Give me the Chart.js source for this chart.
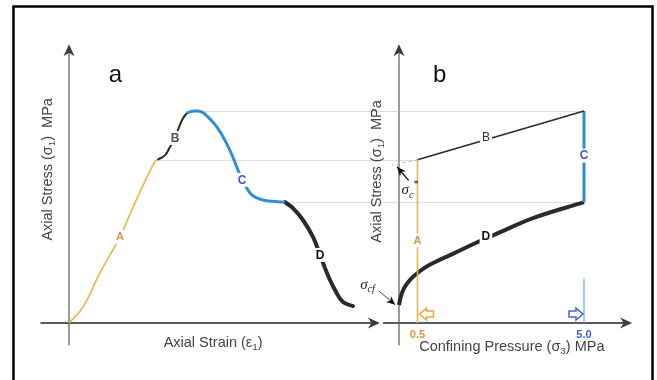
<!DOCTYPE html>
<html>
<head>
<meta charset="utf-8">
<script src="https://cdn.jsdelivr.net/npm/chart.js@4/dist/chart.umd.min.js"></script>
<style>
  html, body { margin: 0; padding: 0; background: #fff; }
  canvas { display: block; }
</style>
</head>
<body>
<canvas id="myChart" width="657" height="380"></canvas>
<script>
// Panel a: axial strain (arbitrary units) vs axial stress (relative, peak = 100)
const strainA = [0, 0.049, 0.108, 0.178, 0.224, 0.273, 0.301, 0.309];
const stressA = [0, 7.5, 23.6, 40.6, 54.7, 68.9, 76.4, 77];
const strainB = [0.309, 0.336, 0.353, 0.371, 0.385, 0.399, 0.413];
const stressB = [77, 79.2, 83.0, 87.3, 92.5, 96.7, 99.1];
const strainC = [0.413, 0.427, 0.441, 0.465, 0.486, 0.517, 0.545, 0.573, 0.601, 0.633, 0.657, 0.685, 0.720, 0.755];
const stressC = [99.1, 99.8, 100, 99.5, 97.2, 92.5, 86.3, 78.3, 68.9, 61.3, 59.0, 57.8, 57.3, 57];
const strainD = [0.755, 0.783, 0.818, 0.853, 0.878, 0.902, 0.930, 0.958, 0.993];
const stressD = [57, 54.2, 48.6, 40.6, 32.1, 23.6, 15.6, 9.9, 8.0];

// Panel b: confining pressure (MPa) vs axial stress
const pressureA = [0.5, 0.5];
const stressAb = [0, 77];
const pressureB = [0.5, 5.0];
const stressBb = [77, 100];
const pressureC = [5.0, 5.0];
const stressCb = [100, 57];
const pressureD = [0, 0.05, 0.13, 0.26, 0.42, 0.68, 0.98, 1.44, 2.10, 2.69, 3.64, 5.0];
const stressDb = [8.5, 12.5, 16.2, 19.6, 22.4, 25.9, 28.8, 32.5, 38.0, 42.5, 49.6, 57];
const pressureExtrap = [0.5, -0.19];
const stressExtrap = [77, 74.5];
const pressureTick5 = [5.0, 5.0];
const stressTick5 = [0, 21];

const pressureTicks = [0.5, 5.0];
const pressureTickLabels = ["0.5", "5.0"];

// stress levels carried across from panel a to panel b
const guides = [
  { strain: 0.441, stress: 100, pressure: 5.0 },
  { strain: 0.309, stress: 77, pressure: 0.5 },
  { strain: 0.755, stress: 57, pressure: 5.0 },
];

function pts(xs, ys) {
  return xs.map((x, i) => ({ x: x, y: ys[i] }));
}

const YELLOW = "#e8b446";
const ORANGE = "#d9963a";
const BLUE = "#2e8fd8";
const BLUE_TXT = "#4257d2";
const BLACK = "#2a2a2a";
const FONT = "'Liberation Sans', Arial, sans-serif";

function rich(ctx, parts, cx, cy, size, color, rot, family) {
  ctx.save();
  ctx.translate(cx, cy);
  if (rot) ctx.rotate(rot);
  ctx.fillStyle = color;
  ctx.textBaseline = "middle";
  ctx.textAlign = "left";
  let w = 0;
  parts.forEach((p) => {
    const s = p.sub || p.sup ? size * 0.68 : size;
    ctx.font = (p.style || "") + " " + s + "px " + (family || FONT);
    p.w = ctx.measureText(p.t).width;
    w += p.w;
  });
  let x = -w / 2;
  parts.forEach((p) => {
    const s = p.sub || p.sup ? size * 0.68 : size;
    ctx.font = (p.style || "") + " " + s + "px " + (family || FONT);
    const dy = p.sub ? size * 0.3 : p.sup ? -size * 0.4 : 0;
    ctx.fillText(p.t, x, dy);
    x += p.w;
  });
  ctx.restore();
}

function arrowHead(ctx, x1, y1, x2, y2, len, half, color) {
  const a = Math.atan2(y2 - y1, x2 - x1);
  ctx.save();
  ctx.fillStyle = color;
  ctx.beginPath();
  ctx.moveTo(x2, y2);
  ctx.lineTo(x2 - len * Math.cos(a) + half * Math.sin(a), y2 - len * Math.sin(a) - half * Math.cos(a));
  ctx.lineTo(x2 - len * 0.7 * Math.cos(a), y2 - len * 0.7 * Math.sin(a));
  ctx.lineTo(x2 - len * Math.cos(a) - half * Math.sin(a), y2 - len * Math.sin(a) + half * Math.cos(a));
  ctx.closePath();
  ctx.fill();
  ctx.restore();
}

function tagLabel(ctx, text, x, y, color, font) {
  ctx.save();
  ctx.font = font;
  const w = ctx.measureText(text).width;
  ctx.fillStyle = "#fff";
  ctx.fillRect(x - w / 2 - 2, y - 7, w + 4, 14);
  ctx.fillStyle = color;
  ctx.textAlign = "center";
  ctx.textBaseline = "middle";
  ctx.fillText(text, x, y + 0.5);
  ctx.restore();
}

function blockArrow(ctx, tipX, y, dir, color) {
  // dir = -1 points left, +1 points right
  const L = 14, head = 7, hh = 6, sh = 3;
  ctx.save();
  ctx.strokeStyle = color;
  ctx.fillStyle = "#fff";
  ctx.lineWidth = 1.5;
  ctx.beginPath();
  ctx.moveTo(tipX, y);
  ctx.lineTo(tipX - dir * head, y - hh);
  ctx.lineTo(tipX - dir * head, y - sh);
  ctx.lineTo(tipX - dir * L, y - sh);
  ctx.lineTo(tipX - dir * L, y + sh);
  ctx.lineTo(tipX - dir * head, y + sh);
  ctx.lineTo(tipX - dir * head, y + hh);
  ctx.closePath();
  ctx.fill();
  ctx.stroke();
  ctx.restore();
}

const sketchPlugin = {
  id: "sketch",
  beforeDatasetsDraw(chart) {
    const ctx = chart.ctx;
    const xa = chart.scales.xa, xb = chart.scales.xb, y = chart.scales.y;

    // guide lines between the panels
    ctx.save();
    ctx.strokeStyle = "#dcdcdc";
    ctx.lineWidth = 1;
    guides.forEach((g) => {
      const py = Math.round(y.getPixelForValue(g.stress)) + 0.5;
      ctx.beginPath();
      ctx.moveTo(xa.getPixelForValue(g.strain), py);
      ctx.lineTo(xb.getPixelForValue(g.pressure), py);
      ctx.stroke();
    });
    ctx.restore();

    // axes
    const axes = [
      { sc: xa, x0: -0.1, x1: 1.087 },
      { sc: xb, x0: -0.43, x1: 6.3 },
    ];
    ctx.save();
    axes.forEach((a) => {
      const ox = a.sc.getPixelForValue(0);
      const oy = y.getPixelForValue(0);
      const top = y.getPixelForValue(131.5);
      const bot = y.getPixelForValue(-10.5);
      const left = a.sc.getPixelForValue(a.x0);
      const right = a.sc.getPixelForValue(a.x1);
      ctx.lineWidth = 2;
      ctx.strokeStyle = "#9a9a9a";
      ctx.beginPath();
      ctx.moveTo(ox, bot);
      ctx.lineTo(ox, top + 6);
      ctx.stroke();
      ctx.strokeStyle = "#5c5c5c";
      ctx.beginPath();
      ctx.moveTo(left, oy);
      ctx.lineTo(right - 6, oy);
      ctx.stroke();
      arrowHead(ctx, ox, bot, ox, top, 12, 5.5, "#3c3c3c");
      arrowHead(ctx, left, oy, right, oy, 12, 5.5, "#3c3c3c");
    });
    ctx.restore();
  },
  afterDatasetsDraw(chart) {
    const ctx = chart.ctx;
    const xa = chart.scales.xa, xb = chart.scales.xb, y = chart.scales.y;
    const P = (sc, vx, vy) => [sc.getPixelForValue(vx), y.getPixelForValue(vy)];

    // curve labels
    const bold = "bold 12px " + FONT;
    let p;
    p = P(xa, 0.178, 40.6); tagLabel(ctx, "A", p[0], p[1], ORANGE, "bold 11px " + FONT);
    p = P(xa, 0.371, 87.3); tagLabel(ctx, "B", p[0], p[1], "#555", bold);
    p = P(xa, 0.605, 67.5); tagLabel(ctx, "C", p[0], p[1], BLUE_TXT, bold);
    p = P(xa, 0.878, 32.1); tagLabel(ctx, "D", p[0], p[1], "#111", bold);
    p = P(xb, 0.5, 39); tagLabel(ctx, "A", p[0], p[1], ORANGE, "bold 11px " + FONT);
    p = P(xb, 2.35, 87.8); tagLabel(ctx, "B", p[0], p[1], "#333", "12px " + FONT);
    p = P(xb, 5.0, 79); tagLabel(ctx, "C", p[0], p[1], BLUE_TXT, bold);
    p = P(xb, 2.35, 41); tagLabel(ctx, "D", p[0], p[1], "#111", bold);

    // panel letters
    ctx.save();
    ctx.fillStyle = "#111";
    ctx.font = "24px " + FONT;
    ctx.textAlign = "center";
    ctx.textBaseline = "middle";
    p = P(xa, 0.162, 117); ctx.fillText("a", p[0], p[1]);
    p = P(xb, 1.1, 117); ctx.fillText("b", p[0], p[1]);
    ctx.restore();

    // axis titles
    const stressTitle = [{ t: "Axial Stress (σ" }, { t: "1", sub: true }, { t: ")  MPa" }];
    rich(ctx, stressTitle, xa.getPixelForValue(-0.072), y.getPixelForValue(72.5), 14.5, "#444", -Math.PI / 2);
    rich(ctx, stressTitle, xb.getPixelForValue(-0.59), y.getPixelForValue(71.5), 14.5, "#444", -Math.PI / 2);
    rich(ctx, [{ t: "Axial Strain (ε" }, { t: "1", sub: true }, { t: ")" }],
      xa.getPixelForValue(0.504), y.getPixelForValue(-9.5), 14.5, "#444", 0);
    rich(ctx, [{ t: "Confining Pressure (σ" }, { t: "3", sub: true }, { t: ") MPa" }],
      xb.getPixelForValue(3.05), y.getPixelForValue(-11.3), 14.5, "#444", 0);

    // pressure tick labels
    ctx.save();
    ctx.font = "bold 11px " + FONT;
    ctx.textAlign = "center";
    ctx.textBaseline = "middle";
    pressureTicks.forEach((v, i) => {
      ctx.fillStyle = i === 0 ? ORANGE : "#3a5fcd";
      ctx.fillText(pressureTickLabels[i], xb.getPixelForValue(v), y.getPixelForValue(-5.5));
    });
    ctx.restore();

    // sigma_c* annotation
    ctx.save();
    ctx.strokeStyle = "#111";
    ctx.lineWidth = 1.3;
    let t = P(xb, -0.05, 73.6), f = P(xb, 0.26, 67.3);
    ctx.beginPath(); ctx.moveTo(f[0], f[1]); ctx.lineTo(t[0], t[1]); ctx.stroke();
    arrowHead(ctx, f[0], f[1], t[0], t[1], 9, 4, "#111");
    // sigma_cf annotation
    ctx.strokeStyle = "#444";
    ctx.lineWidth = 1;
    t = P(xb, -0.1, 8.6); f = P(xb, -0.54, 15);
    ctx.beginPath(); ctx.moveTo(f[0], f[1]); ctx.lineTo(t[0], t[1]); ctx.stroke();
    arrowHead(ctx, f[0], f[1], t[0], t[1], 9, 4, "#111");
    ctx.restore();
    const serif = "'Liberation Serif', 'DejaVu Serif', serif";
    p = P(xb, 0.3, 62.5);
    rich(ctx, [{ t: "σ", style: "italic" }, { t: "c", sub: true, style: "italic" }, { t: "*", sup: true }],
      p[0], p[1], 15, "#222", 0, serif);
    p = P(xb, -0.85, 18);
    rich(ctx, [{ t: "σ", style: "italic" }, { t: "cf", sub: true, style: "italic" }],
      p[0], p[1], 15, "#222", 0, serif);

    // small loading arrows
    p = P(xb, 0.5, 4.2); blockArrow(ctx, p[0] + 2, p[1], -1, "#e6a93a");
    p = P(xb, 5.0, 4.2); blockArrow(ctx, p[0] - 1, p[1], 1, "#4b5fd6");
  },
  afterDraw(chart) {
    const ctx = chart.ctx;
    ctx.save();
    ctx.strokeStyle = "#000";
    ctx.lineWidth = 2.5;
    ctx.strokeRect(13.5, 6.5, 639, 420);
    ctx.restore();
  },
};

const curve = { pointRadius: 0, fill: false, borderCapStyle: "butt", tension: 0.4 };
const straight = { pointRadius: 0, fill: false, borderCapStyle: "butt", tension: 0 };

const data = {
  datasets: [
    { ...curve, label: "A", xAxisID: "xa", data: pts(strainA, stressA), borderColor: YELLOW, borderWidth: 1.6 },
    { ...curve, label: "B", xAxisID: "xa", data: pts(strainB, stressB), borderColor: BLACK, borderWidth: 2 },
    { ...curve, label: "C", xAxisID: "xa", data: pts(strainC, stressC), borderColor: BLUE, borderWidth: 3 },
    { ...curve, label: "D", xAxisID: "xa", data: pts(strainD, stressD), borderColor: BLACK, borderWidth: 4, borderCapStyle: "round" },
    { ...straight, label: "extrap", xAxisID: "xb", data: pts(pressureExtrap, stressExtrap), borderColor: "#b8b8b8", borderWidth: 1, borderDash: [3, 3] },
    { ...straight, label: "A b", xAxisID: "xb", data: pts(pressureA, stressAb), borderColor: YELLOW, borderWidth: 1.6 },
    { ...straight, label: "tick 5", xAxisID: "xb", data: pts(pressureTick5, stressTick5), borderColor: "#6aa6e6", borderWidth: 1.2 },
    { ...straight, label: "B b", xAxisID: "xb", data: pts(pressureB, stressBb), borderColor: BLACK, borderWidth: 1.6 },
    { ...straight, label: "C b", xAxisID: "xb", data: pts(pressureC, stressCb), borderColor: BLUE, borderWidth: 3 },
    { ...curve, label: "D b", xAxisID: "xb", data: pts(pressureD, stressDb), borderColor: BLACK, borderWidth: 4 },
  ],
};

const config = {
  type: "line",
  data,
  options: {
    responsive: false,
    animation: false,
    layout: { padding: 0 },
    plugins: { legend: { display: false }, tooltip: { enabled: false } },
    scales: {
      xa: { type: "linear", position: "bottom", display: false, min: -0.2413, max: 2.056 },
      xb: { type: "linear", position: "bottom", display: false, min: -10.784, max: 6.973 },
      y: { type: "linear", display: false, min: -26.9, max: 152.4 },
    },
  },
  plugins: [sketchPlugin],
};

const myChart = new Chart(document.getElementById("myChart"), config);
</script>
</body>
</html>
